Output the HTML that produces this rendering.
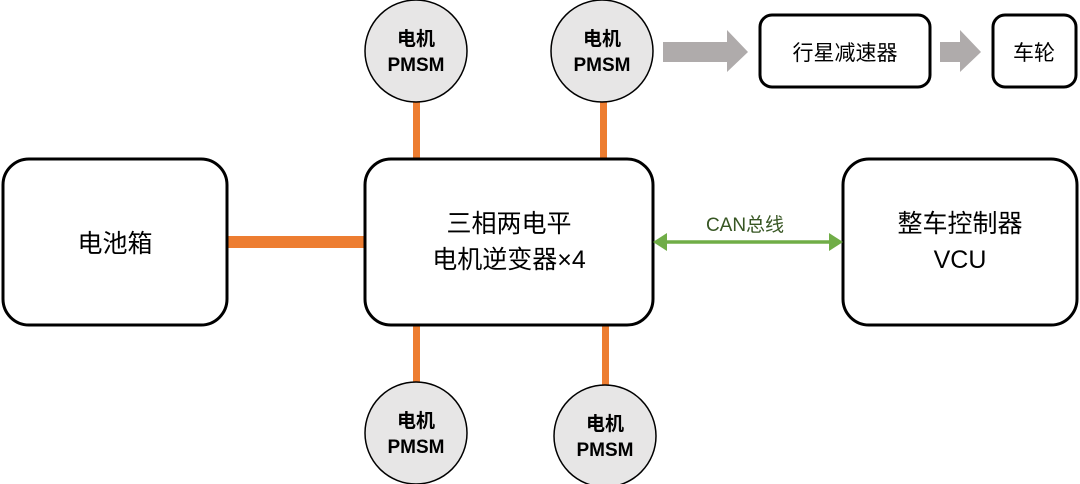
<!DOCTYPE html>
<html><head><meta charset="utf-8"><style>
html,body{margin:0;padding:0;background:#fff;}
svg{display:block;}
text{font-family:"Liberation Sans","Noto Sans CJK SC",sans-serif;}
</style></head><body>
<svg width="1080" height="484" viewBox="0 0 1080 484" xmlns="http://www.w3.org/2000/svg">
<!-- orange links -->
<rect x="226" y="236" width="140" height="12" fill="#ED7D31"/>
<rect x="413" y="100" width="7" height="60" fill="#ED7D31"/>
<rect x="600" y="100" width="7" height="60" fill="#ED7D31"/>
<rect x="413" y="324" width="7" height="60" fill="#ED7D31"/>
<rect x="602" y="324" width="7" height="64" fill="#ED7D31"/>
<!-- boxes -->
<rect x="3" y="159" width="224" height="166" rx="26" fill="#fff" stroke="#000" stroke-width="3"/>
<rect x="365" y="159" width="288" height="166" rx="26" fill="#fff" stroke="#000" stroke-width="3"/>
<rect x="843" y="159" width="234" height="166" rx="26" fill="#fff" stroke="#000" stroke-width="3"/>
<rect x="760" y="15" width="170" height="72" rx="12" fill="#fff" stroke="#000" stroke-width="3"/>
<rect x="993" y="15" width="83" height="72" rx="12" fill="#fff" stroke="#000" stroke-width="3"/>
<!-- grey arrows -->
<polygon points="663,42 727,42 727,30 748,52 727,72 727,62 663,62" fill="#AFABAB"/>
<polygon points="940,42 960,42 960,30 981,52 960,72 960,62 940,62" fill="#AFABAB"/>
<!-- circles -->
<g fill="#E7E6E6" stroke="#000" stroke-width="1.5">
<circle cx="416" cy="51" r="51"/>
<circle cx="602" cy="51" r="51"/>
<circle cx="416" cy="433" r="51"/>
<circle cx="605" cy="436" r="51"/>
</g>
<g font-size="19" font-weight="bold" text-anchor="middle" fill="#000">
<text x="416" y="45">电机</text><text x="416" y="71">PMSM</text>
<text x="602" y="45">电机</text><text x="602" y="71">PMSM</text>
<text x="416" y="427">电机</text><text x="416" y="453">PMSM</text>
<text x="605" y="430">电机</text><text x="605" y="456">PMSM</text>
</g>
<!-- green CAN -->
<line x1="665" y1="242" x2="831" y2="242" stroke="#70AD47" stroke-width="3.5"/>
<polygon points="653,242 667,233 667,251" fill="#70AD47"/>
<polygon points="843,242 829,233 829,251" fill="#70AD47"/>
<text x="745" y="231" font-size="19" text-anchor="middle" fill="#375623">CAN总线</text>
<!-- box labels -->
<g font-size="25" text-anchor="middle" fill="#000">
<text x="115" y="252">电池箱</text>
<text x="509" y="232">三相两电平</text>
<text x="509" y="268">电机逆变器×4</text>
<text x="960" y="232">整车控制器</text>
<text x="960" y="268">VCU</text>
<text x="845" y="60" font-size="21">行星减速器</text>
<text x="1034" y="60" font-size="21">车轮</text>
</g>
</svg>
</body></html>
